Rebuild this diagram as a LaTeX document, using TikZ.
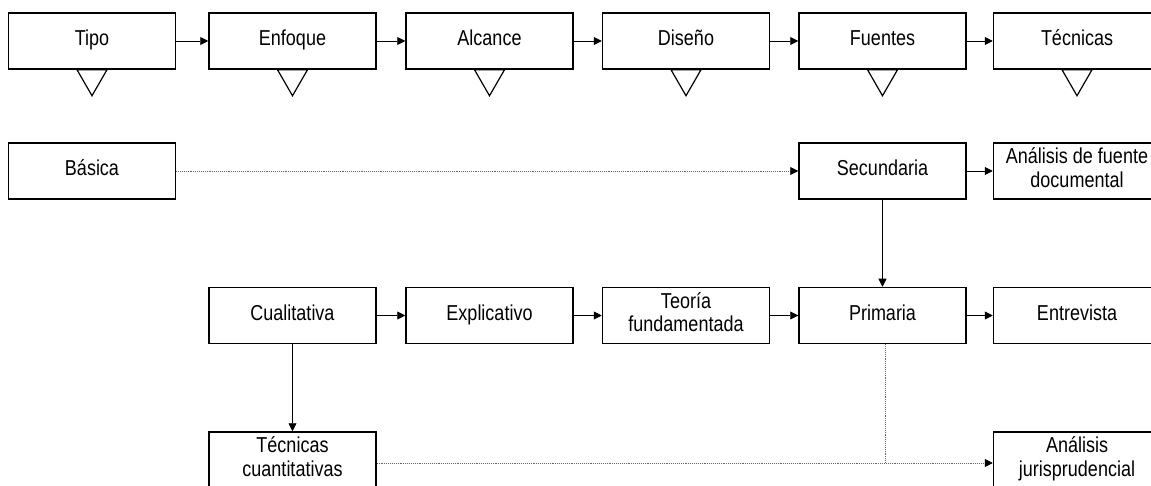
\documentclass[tikz,border=0pt]{standalone}
\usepackage{fontspec}
\setmainfont{Liberation Sans}
\usepackage{graphicx}
\usetikzlibrary{arrows.meta}
\newcommand{\txt}[1]{\scalebox{1}[1.2]{\begin{tabular}{@{}c@{}}#1\end{tabular}}}
\tikzset{
  box/.style={draw=black, line width=1.5pt, minimum width=167pt, minimum height=56pt, inner sep=0pt, font=\fontsize{18pt}{19.5pt}\selectfont},
  conn/.style={draw=black, line width=0.9pt, -{Triangle[length=8pt,width=8pt]}},
  dconn/.style={draw=gray!80!black, line width=0.9pt, densely dotted, -{Triangle[length=8pt,width=8pt,color=black]}},
  dline/.style={draw=gray!80!black, line width=0.9pt, densely dotted},
  tri/.style={draw=black, line width=1.2pt, fill=white}
}
\begin{document}
\begin{tikzpicture}[x=1pt,y=-1pt]
\useasboundingbox (0,0) rectangle (1151,486);
\begin{scope}
\clip (0,0) rectangle (1151,486);
% row 1
\node[box] (tipo) at (92,41) {\txt{Tipo}};
\node[box] (enf) at (292.5,41) {\txt{Enfoque}};
\node[box] (alc) at (489.5,41) {\txt{Alcance}};
\node[box] (dis) at (686,41) {\txt{Diseño}};
\node[box] (fue) at (882.5,41) {\txt{Fuentes}};
\node[box] (tec) at (1077,41) {\txt{Técnicas}};
% row 2
\node[box] (bas) at (92,171) {\txt{Básica}};
\node[box] (sec) at (882.5,171) {\txt{Secundaria}};
\node[box] (afd) at (1077,171) {\txt{Análisis de fuente\\documental}};
% row 3
\node[box] (cua) at (292.5,315.5) {\txt{Cualitativa}};
\node[box] (exp) at (489.5,315.5) {\txt{Explicativo}};
\node[box] (teo) at (686,315.5) {\txt{Teoría\\fundamentada}};
\node[box] (pri) at (882.5,315.5) {\txt{Primaria}};
\node[box] (ent) at (1077,315.5) {\txt{Entrevista}};
% row 4
\node[box] (tcu) at (292.5,460) {\txt{Técnicas\\cuantitativas}};
\node[box] (aju) at (1077,460) {\txt{Análisis\\jurisprudencial}};
% triangles
\foreach \n in {tipo,enf,alc,dis,fue,tec}{
  \draw[tri] ([xshift=-15pt]\n.south) -- ([xshift=15pt]\n.south) -- ([yshift=-26pt]\n.south) -- cycle;
}
% row 1 arrows
\draw[conn] (tipo) -- (enf);
\draw[conn] (enf) -- (alc);
\draw[conn] (alc) -- (dis);
\draw[conn] (dis) -- (fue);
\draw[conn] (fue) -- (tec);
% row 2
\draw[dconn] (bas) -- (sec);
\draw[conn] (sec) -- (afd);
\draw[conn] (sec) -- (pri);
% row 3
\draw[conn] (cua) -- (exp);
\draw[conn] (exp) -- (teo);
\draw[conn] (teo) -- (pri);
\draw[conn] (pri) -- (ent);
\draw[conn] (cua) -- (tcu);
% row 4
\coordinate (j) at ([xshift=3pt]pri.south |- 0,463);
\draw[dconn] (tcu.east |- j) -- (aju.west |- j);
\draw[dline] ([xshift=3pt]pri.south) -- (j);
\end{scope}
\end{tikzpicture}
\end{document}
